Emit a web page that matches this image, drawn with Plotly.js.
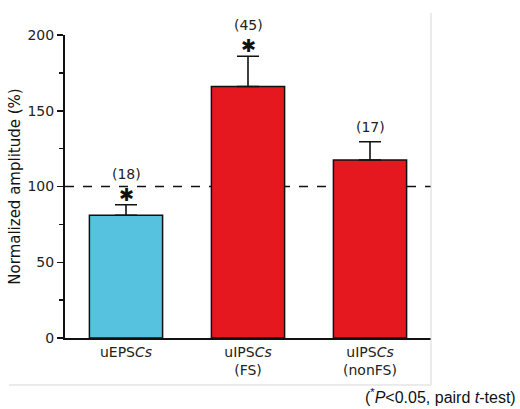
<!DOCTYPE html>
<html>
<head>
<meta charset="utf-8">
<script src="https://cdn.plot.ly/plotly-3.0.1.min.js"></script>
<style>html,body{margin:0;padding:0;background:#fff;}</style>
</head>
<body>
<div id="chart" style="width:520px;height:409px;"></div>
<script>
const categories = ["uEPS<i>Cs</i>", "uIPS<i>Cs</i><br>(FS)", "uIPS<i>Cs</i><br>(nonFS)"];
const values = [81, 166, 117.5];
const errors = [7, 20, 12];
const counts = ["(18)", "(45)", "(17)"];
const significant = [true, true, false];
const colors = ["#56C2E0", "#E5171F", "#E5171F"];
const tickVals = [0, 50, 100, 150, 200];
const refLine = 100;

const xIdx = categories.map((c, i) => i);

const trace = {
  type: "bar",
  x: xIdx,
  y: values,
  width: 0.6,
  marker: { color: colors, line: { color: "#111", width: 1.5 } },
  error_y: {
    type: "data", symmetric: false, array: errors,
    arrayminus: values.map(() => 0),
    color: "#111", thickness: 1.6, width: 11
  },
  hoverinfo: "skip"
};

const annotations = [];
values.forEach((v, i) => {
  const top = v + errors[i];
  annotations.push({
    x: i, y: top, xref: "x", yref: "y", text: counts[i], showarrow: false,
    yanchor: "bottom", yshift: significant[i] ? 21 : 5,
    font: { family: "DejaVu Sans, sans-serif", size: 14, color: "#222" }
  });
  if (significant[i]) {
    annotations.push({
      x: i, y: top, xref: "x", yref: "y", text: "✱", showarrow: false,
      yanchor: "bottom", yshift: 2, height: 14, valign: "middle",
      font: { family: "DejaVu Sans, sans-serif", size: 18, color: "#111" }
    });
  }
});
annotations.push({
  x: 1, y: -0.19, xref: "paper", yref: "paper", xanchor: "right", yanchor: "middle",
  xshift: 87,
  text: "(<sup>*</sup><i>P</i><0.05, paird <i>t</i>-test)", showarrow: false,
  font: { family: "Liberation Sans, Arial, sans-serif", size: 16, color: "#111" }
});

const shapes = [
  { type: "line", xref: "x", yref: "y", x0: -0.5, x1: 2.5, y0: refLine, y1: refLine,
    line: { color: "#111", width: 1.5, dash: "dash" }, layer: "below" },
  { type: "line", xref: "paper", yref: "paper", x0: 1, x1: 1, y0: -0.155, y1: 1.073,
    line: { color: "#d8d8d8", width: 1 } },
  { type: "line", xref: "paper", yref: "paper", x0: -0.153, x1: 1, y0: -0.155, y1: -0.155,
    line: { color: "#d8d8d8", width: 1 } }
];

const layout = {
  width: 520, height: 409,
  margin: { l: 65, r: 89, t: 35, b: 71 },
  paper_bgcolor: "#fff", plot_bgcolor: "#fff",
  showlegend: false,
  bargap: 0.4,
  font: { family: "DejaVu Sans, sans-serif", color: "#111" },
  xaxis: {
    range: [-0.5, 2.5], tickmode: "array", tickvals: xIdx, ticktext: categories,
    showline: true, linecolor: "#111", linewidth: 2, ticks: "", showgrid: false,
    zeroline: false, fixedrange: true,
    tickfont: { family: "DejaVu Sans, sans-serif", size: 14, color: "#222" }
  },
  yaxis: {
    range: [0, 200], tickmode: "array", tickvals: tickVals,
    showline: true, linecolor: "#111", linewidth: 2,
    ticks: "outside", ticklen: 6, tickwidth: 1.5, tickcolor: "#111",
    minor: { ticks: "outside", ticklen: 4, tickwidth: 1.5, tickcolor: "#111", dtick: 25 },
    showgrid: false, zeroline: false, fixedrange: true,
    tickfont: { family: "DejaVu Sans, sans-serif", size: 14, color: "#222" },
    title: { text: "Normalized amplitude (%)", standoff: 3,
      font: { family: "DejaVu Sans, sans-serif", size: 15, color: "#111" } }
  },
  annotations: annotations,
  shapes: shapes
};

Plotly.newPlot("chart", [trace], layout, { displayModeBar: false, staticPlot: true });
</script>
</body>
</html>
